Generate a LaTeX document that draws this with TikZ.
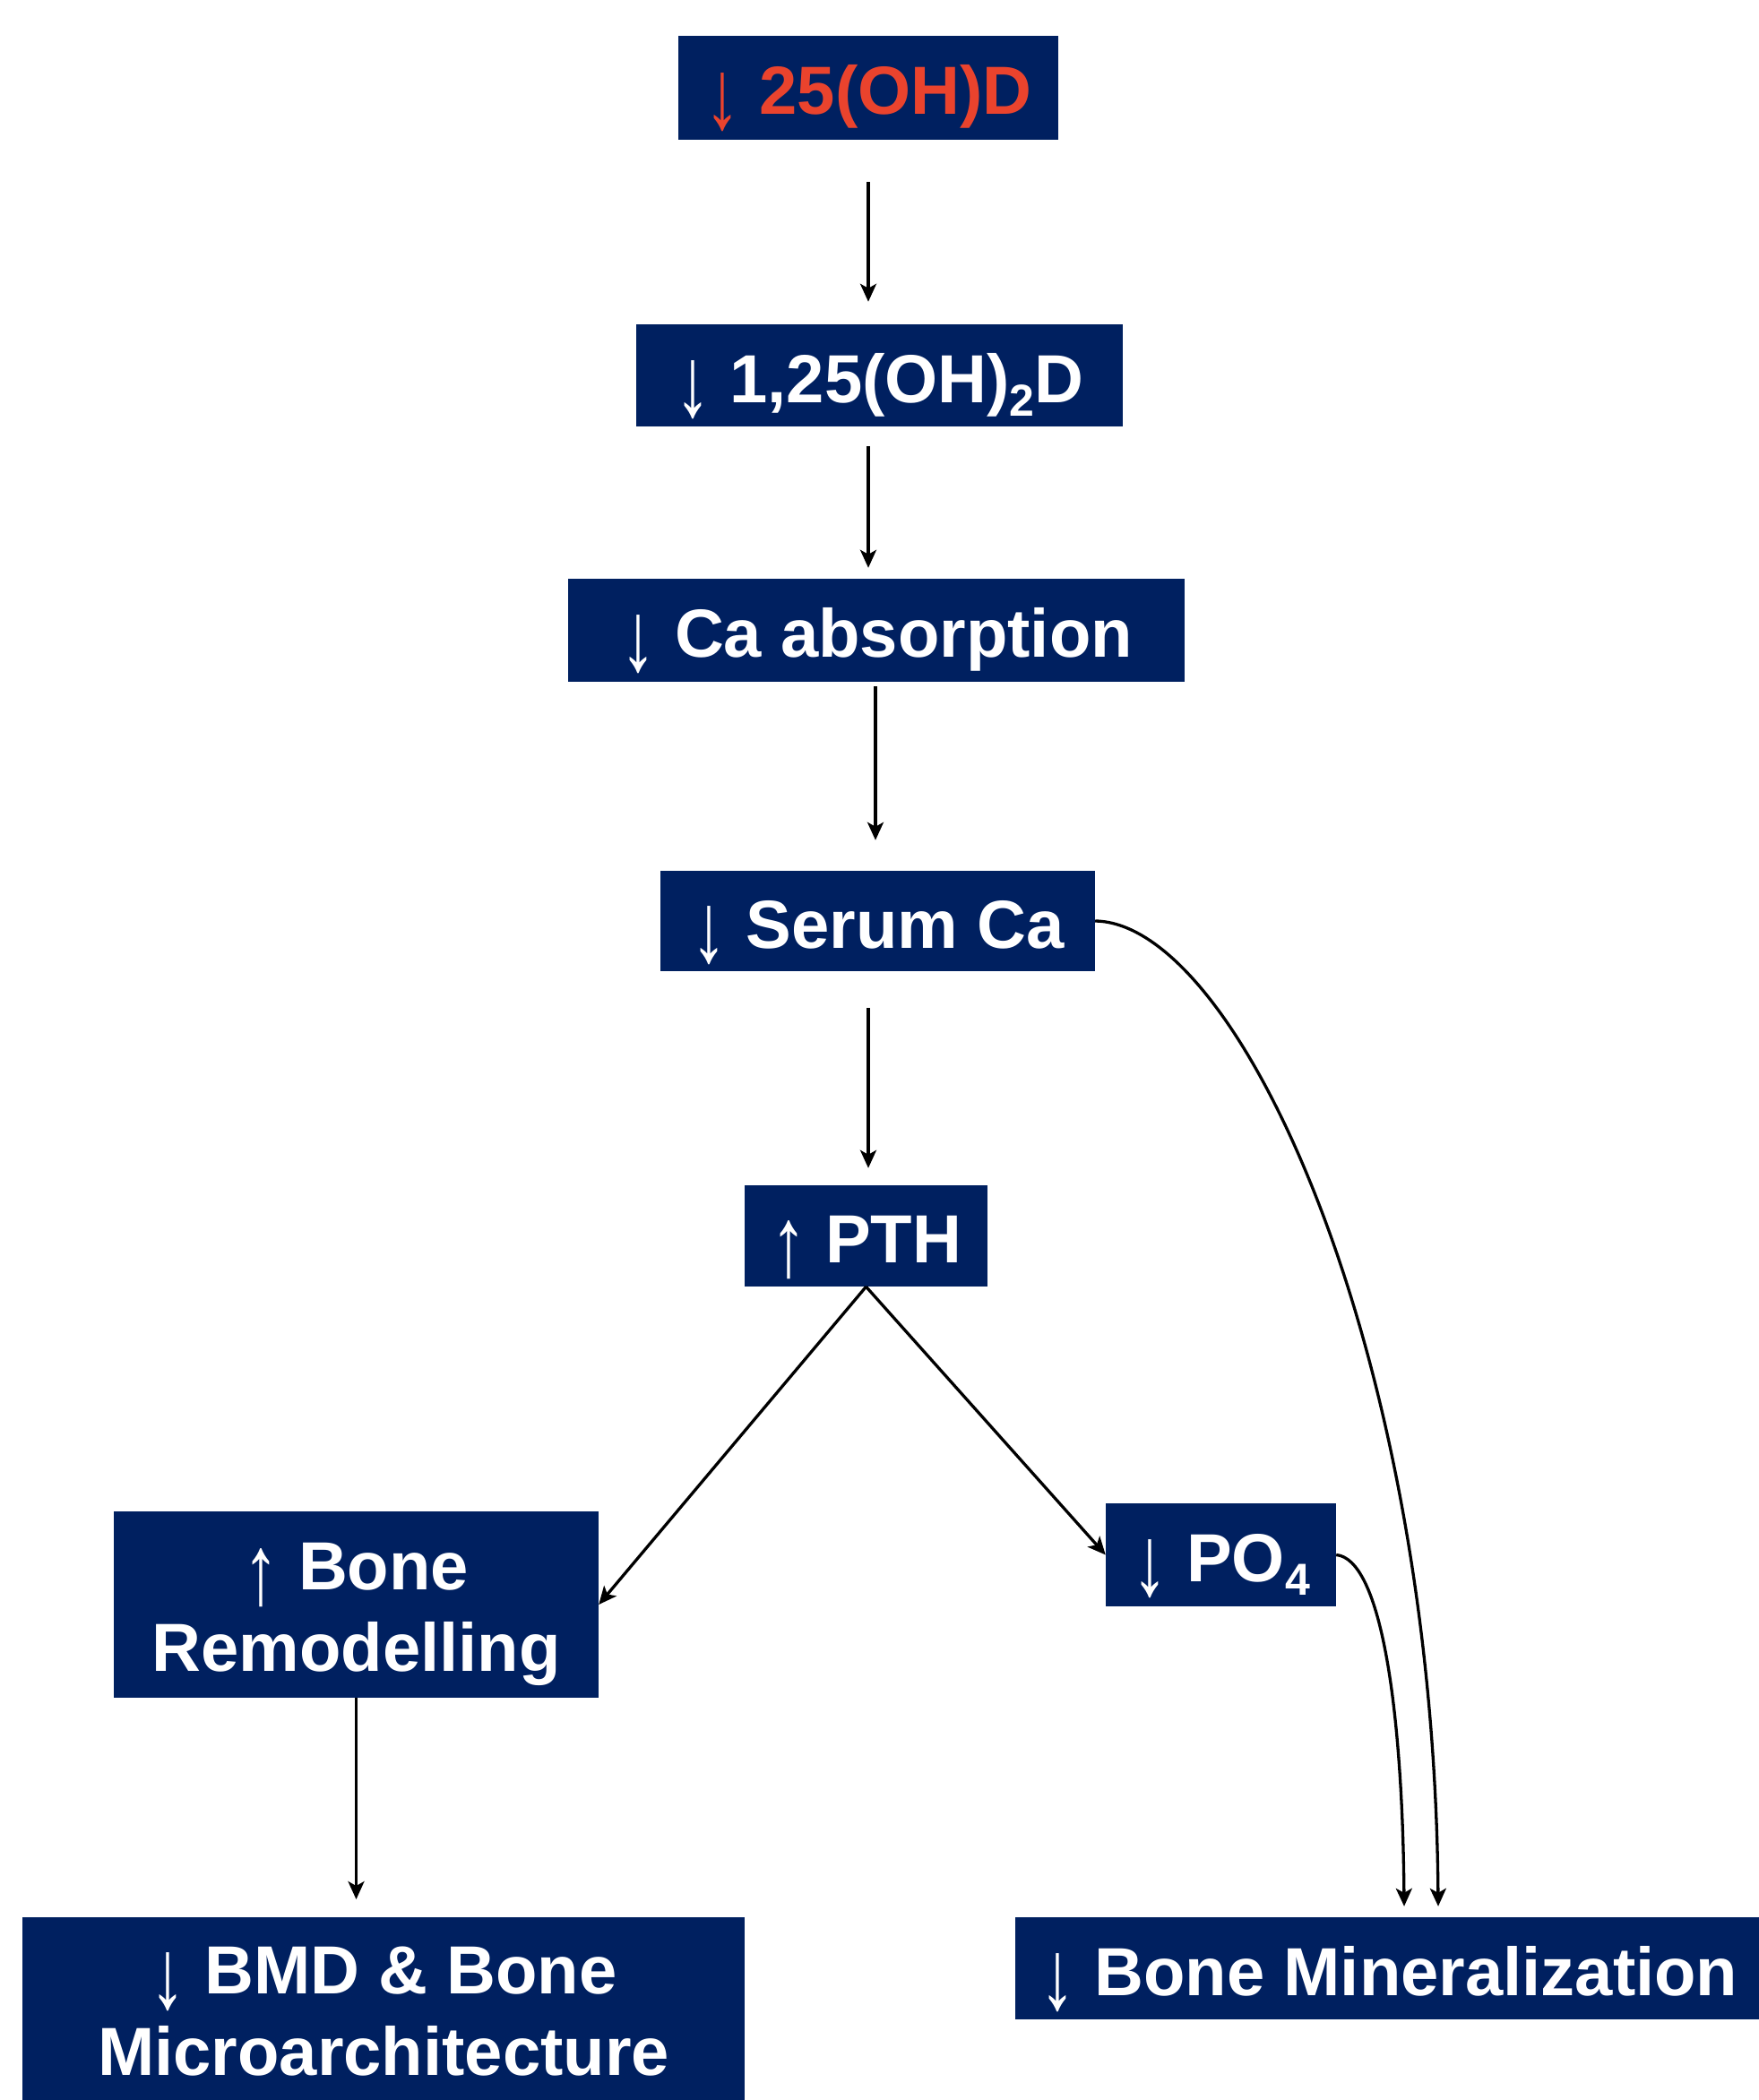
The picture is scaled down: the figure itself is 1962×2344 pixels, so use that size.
\documentclass[tikz,border=0pt]{standalone}
\usepackage{fontspec}
\setmainfont{Liberation Sans}
\usetikzlibrary{arrows.meta,calc}
\definecolor{navy}{RGB}{0,32,96}
\definecolor{redtxt}{RGB}{234,67,45}
\newcommand{\dnarr}{{\mdseries\raisebox{-0.2em}{\scalebox{1.05}[1.45]{↓}}}}
\newcommand{\uparr}{{\mdseries\raisebox{-0.2em}{\scalebox{1.05}[1.45]{↑}}}}
\newcommand{\subtwo}[1]{\raisebox{-0.2em}{\fontsize{50}{50}\selectfont #1}}
\begin{document}
\begin{tikzpicture}[x=1pt,y=-1pt,
  box/.style={fill=navy, text=white, font=\bfseries\fontsize{76}{91}\selectfont, inner sep=0pt, align=center},
  one/.style={box, text height=60pt, text depth=0pt},
  arr/.style={-{Stealth[length=20pt,width=18pt,inset=5pt]}, line width=3.3pt}]
\useasboundingbox[fill=white] (0,0) rectangle (1962,2344);
\node[one, minimum width=424pt, minimum height=116pt, text=redtxt] (n1) at (969,98) {\dnarr\ 25(OH)D};
\node[one, minimum width=543pt, minimum height=114pt] (n2) at (981.5,419) {\dnarr\ 1,25(OH)\subtwo{2}D};
\node[one, minimum width=688pt, minimum height=115pt] (n3) at (978,703.5) {\dnarr\ Ca absorption};
\node[one, minimum width=485pt, minimum height=112pt] (n4) at (979.5,1028) {\dnarr\ Serum Ca};
\node[one, minimum width=271pt, minimum height=113pt] (n5) at (966.5,1379.5) {\uparr\ PTH};
\node[box, minimum width=541pt, minimum height=208pt] (n6) at (397.5,1791) {\rule{0pt}{75pt}\uparr\ Bone\\Remodelling};
\node[one, minimum width=257pt, minimum height=115pt] (n7) at (1362.5,1735.5) {\dnarr\ PO\subtwo{4}};
\node[box, minimum width=806pt, anchor=north, inner ysep=33pt] (n8) at (428,2140) {\dnarr\ BMD \& Bone\\Microarchitecture};
\node[one, minimum width=834pt, minimum height=114pt] (n9) at (1550,2197) {\dnarr\ Bone Mineralization};

\draw[arr] ([yshift=-47pt]n1.south) -- ([xshift=-12.5pt,yshift=25pt]n2.north);
\draw[arr] ([xshift=-12.5pt,yshift=-22pt]n2.south) -- ([xshift=-9pt,yshift=12pt]n3.north);
\draw[arr] ([xshift=-1pt,yshift=-5pt]n3.south) -- ([xshift=-2.5pt,yshift=34pt]n4.north);
\draw[arr] ([xshift=-10.5pt,yshift=-41pt]n4.south) -- ([xshift=2.5pt,yshift=19pt]n5.north);
\draw[arr] (n5.south) -- (n6.east);
\draw[arr] (n5.south) -- (n7.west);
\draw[arr] (n6.south) -- ([xshift=-30.5pt,yshift=20pt]n8.north);
\draw[arr] (n4.east) .. controls (1380,1030) and (1600,1500) .. ([xshift=55pt,yshift=12pt]n9.north);
\draw[arr] (n7.east) .. controls (1540,1740) and (1565,1900) .. ([xshift=17pt,yshift=12pt]n9.north);
\end{tikzpicture}
\end{document}
